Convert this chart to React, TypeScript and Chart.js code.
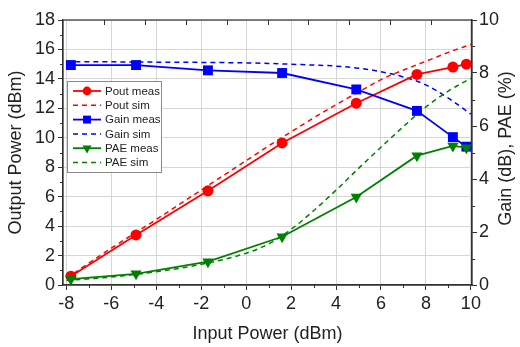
import React, { useEffect, useRef } from 'react';
import { Chart, registerables } from 'chart.js';

Chart.register(...registerables);

// ---- data ----
const measX = [-7.8, -4.9, -1.7, 1.6, 4.9, 7.6, 9.2, 9.8];
const poutMeas = [0.6, 3.4, 6.4, 9.65, 12.35, 14.3, 14.8, 15.0];
const gainMeas = [8.3, 8.3, 8.1, 8.0, 7.38, 6.57, 5.58, 5.22];
const paeMeas = [0.22, 0.42, 0.88, 1.82, 3.32, 4.88, 5.25, 5.18];

const simX = [-8, -6, -4, -2, 0, 1, 2, 3, 4, 5, 6, 7, 8, 9, 10];
const poutSim = [0.45, 2.5, 4.45, 6.45, 8.45, 9.45, 10.4, 11.35, 12.25, 13.1, 13.95, 14.6, 15.2, 15.8, 16.35];
const gainSim = [8.42, 8.42, 8.41, 8.4, 8.38, 8.36, 8.33, 8.3, 8.26, 8.18, 8.05, 7.85, 7.55, 7.05, 6.45];
const paeSim = [0.17, 0.3, 0.5, 0.78, 1.2, 1.55, 2.1, 2.8, 3.58, 4.4, 5.2, 5.98, 6.72, 7.32, 7.8];

const xTicks = [-8, -6, -4, -2, 0, 2, 4, 6, 8, 10];
const leftTicks = [0, 2, 4, 6, 8, 10, 12, 14, 16, 18];
const rightTicks = [0, 2, 4, 6, 8, 10];

const legendLabels = ['Pout meas', 'Pout sim', 'Gain meas', 'Gain sim', 'PAE meas', 'PAE sim'];
const xTitle = 'Input Power (dBm)';
const leftTitle = 'Output Power (dBm)';
const rightTitle = 'Gain (dB), PAE (%)';

const FONT = '"Liberation Sans", Arial, Helvetica, sans-serif';
const RED = 'rgb(255,0,0)';
const BLUE = 'rgb(0,0,255)';
const GREEN = 'rgb(0,128,0)';
const FRAME = '#333333';
const GRID = '#d6d6d6';

const mids = (arr: number[]) => arr.slice(0, -1).map((v, i) => (v + arr[i + 1]) / 2);

function drawMarker(ctx: CanvasRenderingContext2D, style: string, x: number, y: number, r: number, rot: number) {
  ctx.beginPath();
  if (style === 'circle') {
    ctx.arc(x, y, r, 0, Math.PI * 2);
  } else if (style === 'rect') {
    const s = r * Math.SQRT1_2;
    ctx.rect(x - s, y - s, 2 * s, 2 * s);
  } else if (style === 'triangle') {
    const a0 = (rot * Math.PI) / 180;
    for (let k = 0; k < 3; k++) {
      const a = a0 - Math.PI / 2 + (k * 2 * Math.PI) / 3;
      const px = x + Math.cos(a) * r;
      const py = y + Math.sin(a) * r;
      if (k === 0) ctx.moveTo(px, py);
      else ctx.lineTo(px, py);
    }
    ctx.closePath();
  }
  ctx.fill();
}

const decorPlugin = {
  id: 'decor',
  afterDraw(chart: any) {
    const { ctx, chartArea: a, scales } = chart;
    ctx.save();
    // frame
    ctx.strokeStyle = FRAME;
    ctx.lineWidth = 1.2;
    ctx.setLineDash([]);
    ctx.strokeRect(a.left, a.top, a.right - a.left, a.bottom - a.top);

    // minor ticks
    ctx.lineWidth = 1;
    ctx.beginPath();
    mids(xTicks).forEach((v) => {
      const px = Math.round(scales.x.getPixelForValue(v)) + 0.5;
      ctx.moveTo(px, a.bottom);
      ctx.lineTo(px, a.bottom + 3);
    });
    mids(leftTicks).forEach((v) => {
      const py = Math.round(scales.y.getPixelForValue(v)) + 0.5;
      ctx.moveTo(a.left - 3, py);
      ctx.lineTo(a.left, py);
    });
    mids(rightTicks).forEach((v) => {
      const py = Math.round(scales.y1.getPixelForValue(v)) + 0.5;
      ctx.moveTo(a.right, py);
      ctx.lineTo(a.right + 3, py);
    });
    // inward ticks along the top edge
    for (let i = 1; i < 10; i++) {
      const px = Math.round(a.left + (i * (a.right - a.left)) / 10) + 0.5;
      ctx.moveTo(px, a.top);
      ctx.lineTo(px, a.top + 5);
    }
    ctx.stroke();

    // right axis title (reads bottom to top)
    ctx.fillStyle = '#222';
    ctx.font = `18px ${FONT}`;
    ctx.textAlign = 'center';
    ctx.textBaseline = 'middle';
    ctx.translate(506, (a.top + a.bottom) / 2 - 4);
    ctx.rotate(-Math.PI / 2);
    ctx.fillText(rightTitle, 0, 0);
    ctx.setTransform(1, 0, 0, 1, 0, 0);

    // legend
    const bx = a.left + 4;
    const by = a.top + 61;
    const bw = 94;
    const bh = 91;
    ctx.fillStyle = '#ffffff';
    ctx.fillRect(bx, by, bw, bh);
    ctx.strokeStyle = '#8a8a8a';
    ctx.lineWidth = 1;
    ctx.strokeRect(bx + 0.5, by + 0.5, bw, bh);
    const ds = chart.data.datasets;
    ds.forEach((d: any, i: number) => {
      const y = by + 10 + i * 14.3;
      ctx.strokeStyle = d.borderColor;
      ctx.lineWidth = d.borderWidth;
      ctx.setLineDash(d.borderDash || []);
      ctx.beginPath();
      ctx.moveTo(bx + 6, y);
      ctx.lineTo(bx + 34, y);
      ctx.stroke();
      ctx.setLineDash([]);
      if (d.pointRadius > 0) {
        ctx.fillStyle = d.backgroundColor;
        drawMarker(ctx, d.pointStyle, bx + 20, y, d.pointRadius * 0.8, d.pointRotation || 0);
      }
      ctx.fillStyle = '#222';
      ctx.font = `11.5px ${FONT}`;
      ctx.textAlign = 'left';
      ctx.textBaseline = 'middle';
      ctx.fillText(d.label, bx + 38, y + 0.5);
    });
    ctx.restore();
  },
};

export default function App() {
  const ref = useRef<HTMLCanvasElement>(null);

  useEffect(() => {
    document.body.style.margin = '0';
    const canvas = ref.current!;
    const pts = (xs: number[], ys: number[]) => xs.map((x, i) => ({ x, y: ys[i] }));

    const chart = new Chart(canvas, {
      type: 'line',
      data: {
        datasets: [
          {
            label: legendLabels[0], data: pts(measX, poutMeas), yAxisID: 'y',
            borderColor: RED, backgroundColor: RED, borderWidth: 1.8,
            pointStyle: 'circle', pointRadius: 5.5, pointBorderWidth: 0, pointHoverRadius: 5.5, order: 2,
          },
          {
            label: legendLabels[1], data: pts(simX, poutSim), yAxisID: 'y',
            borderColor: RED, backgroundColor: RED, borderWidth: 1.5, borderDash: [5, 4],
            pointRadius: 0, cubicInterpolationMode: 'monotone', order: 5,
          },
          {
            label: legendLabels[2], data: pts(measX, gainMeas), yAxisID: 'y1',
            borderColor: BLUE, backgroundColor: BLUE, borderWidth: 1.8,
            pointStyle: 'rect', pointRadius: 7, pointBorderWidth: 0, pointHoverRadius: 7, order: 1,
          },
          {
            label: legendLabels[3], data: pts(simX, gainSim), yAxisID: 'y1',
            borderColor: BLUE, backgroundColor: BLUE, borderWidth: 1.5, borderDash: [5, 4],
            pointRadius: 0, cubicInterpolationMode: 'monotone', order: 4,
          },
          {
            label: legendLabels[4], data: pts(measX, paeMeas), yAxisID: 'y1',
            borderColor: GREEN, backgroundColor: GREEN, borderWidth: 1.8,
            pointStyle: 'triangle', pointRotation: 180, pointRadius: 6.5, pointBorderWidth: 0, pointHoverRadius: 6.5, order: 0,
          },
          {
            label: legendLabels[5], data: pts(simX, paeSim), yAxisID: 'y1',
            borderColor: GREEN, backgroundColor: GREEN, borderWidth: 1.5, borderDash: [5, 4],
            pointRadius: 0, cubicInterpolationMode: 'monotone', order: 3,
          },
        ] as any,
      },
      options: {
        responsive: false,
        animation: false,
        devicePixelRatio: 1,
        layout: { padding: { top: 20, left: 0, right: 0, bottom: 0 } },
        plugins: { legend: { display: false }, tooltip: { enabled: false } },
        events: [],
        scales: {
          x: {
            type: 'linear', position: 'bottom', min: -8.15, max: 10.05,
            afterBuildTicks: (s: any) => { s.ticks = xTicks.map((v) => ({ value: v })); },
            afterFit: (s: any) => { s.height = 62; },
            grid: { color: GRID, lineWidth: 1, drawTicks: true, tickLength: 5, tickColor: FRAME },
            border: { display: true, color: FRAME, width: 1.2 },
            ticks: { color: '#222', font: { family: FONT, size: 18 }, padding: 3, maxRotation: 0, autoSkip: false, callback: (v: any) => String(v) },
            title: { display: true, text: xTitle, color: '#222', font: { family: FONT, size: 18 }, padding: { top: 0, bottom: 2 } },
          },
          y: {
            type: 'linear', position: 'left', min: 0, max: 18,
            afterBuildTicks: (s: any) => { s.ticks = leftTicks.map((v) => ({ value: v })); },
            afterFit: (s: any) => { s.width = 63; },
            grid: { color: GRID, lineWidth: 1, drawTicks: true, tickLength: 5, tickColor: FRAME },
            border: { display: true, color: FRAME, width: 1.2 },
            ticks: { color: '#222', font: { family: FONT, size: 18 }, padding: 3, autoSkip: false, callback: (v: any) => String(v) },
            title: { display: true, text: leftTitle, color: '#222', font: { family: FONT, size: 18 }, padding: { top: 5, bottom: 0 } },
          },
          y1: {
            type: 'linear', position: 'right', min: 0, max: 10,
            afterBuildTicks: (s: any) => { s.ticks = rightTicks.map((v) => ({ value: v })); },
            afterFit: (s: any) => { s.width = 48; },
            grid: { drawOnChartArea: false, drawTicks: true, tickLength: 5, tickColor: FRAME },
            border: { display: true, color: FRAME, width: 1.2 },
            ticks: { color: '#222', font: { family: FONT, size: 18 }, padding: 2, autoSkip: false, callback: (v: any) => String(v) },
          },
        },
      } as any,
      plugins: [decorPlugin],
    });
    return () => chart.destroy();
  }, []);

  return (
    <div style={{ position: 'absolute', left: 0, top: 0, width: 520, height: 347, background: '#fff' }}>
      <canvas ref={ref} width={520} height={347} style={{ display: 'block' }} />
    </div>
  );
}
